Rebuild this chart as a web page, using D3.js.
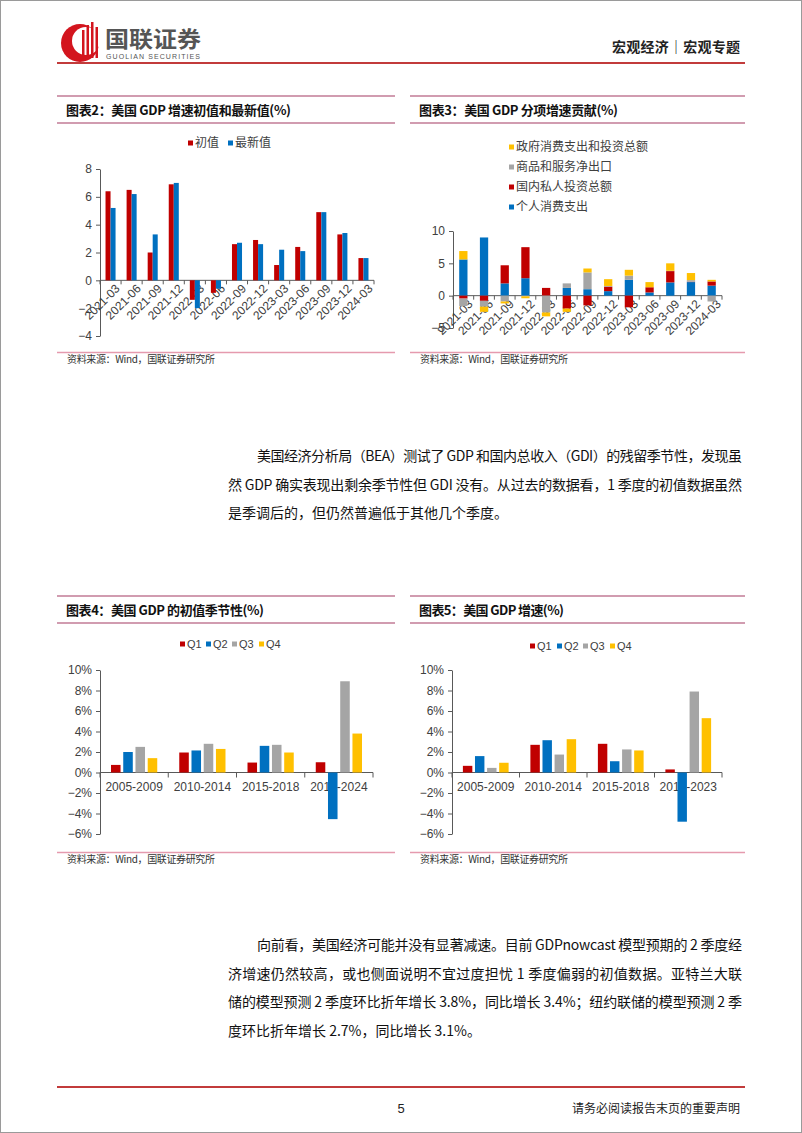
<!DOCTYPE html>
<html><head><meta charset="utf-8">
<script src="https://cdn.jsdelivr.net/npm/d3@7"></script>
<style>
html,body{margin:0;padding:0;background:#fff;}
svg{display:block;}
</style></head><body>
<svg id="page" width="802" height="1133"></svg>
<script>
// ---------------- DATA ----------------
const quarters = ["2021-03","2021-06","2021-09","2021-12","2022-03","2022-06","2022-09","2022-12","2023-03","2023-06","2023-09","2023-12","2024-03"];
const gdpSeriesNames = ["初值","最新值"];
const gdpInitial = [6.4,6.5,2.0,6.9,-1.4,-0.9,2.6,2.9,1.1,2.4,4.9,3.3,1.6];
const gdpLatest  = [5.2,6.2,3.3,7.0,-2.0,-0.6,2.7,2.6,2.2,2.1,4.9,3.4,1.6];
const gdpYTicks = [-4,-2,0,2,4,6,8];

const contribNames = ["个人消费支出","国内私人投资总额","商品和服务净出口","政府消费支出和投资总额"];
const personalConsumption = [5.6,9.0,1.9,2.7,0.0,1.2,1.0,0.7,2.45,0.5,2.05,2.1,1.55];
const privateInvestment   = [-0.45,-0.8,2.8,4.8,1.2,-2.0,-1.5,0.7,-1.8,0.8,1.75,0.05,0.65];
const netExports          = [-1.15,-0.9,-0.9,-0.1,-2.6,0.7,2.6,0.1,0.65,0.0,0.05,0.25,-0.9];
const govSpending         = [1.3,-0.8,-0.3,-0.3,-0.6,-0.5,0.6,1.05,0.9,0.8,1.15,1.1,0.25];
const contribYTicks = [-5,0,5,10];

const seasonNames = ["Q1","Q2","Q3","Q4"];
const periodsInit = ["2005-2009","2010-2014","2015-2018","2019-2024"];
const initQ1 = [0.74,1.95,0.97,1.0];
const initQ2 = [2.0,2.15,2.6,-4.55];
const initQ3 = [2.5,2.8,2.7,8.9];
const initQ4 = [1.4,2.3,1.95,3.8];
const periodsGrowth = ["2005-2009","2010-2014","2015-2018","2019-2023"];
const growQ1 = [0.65,2.7,2.8,0.3];
const growQ2 = [1.6,3.15,1.1,-4.8];
const growQ3 = [0.45,1.75,2.25,7.9];
const growQ4 = [0.95,3.25,2.15,5.3];
const pctYTicks = [-6,-4,-2,0,2,4,6,8,10];

const para1 = [
  "美国经济分析局（BEA）测试了 GDP 和国内总收入（GDI）的残留季节性，发现虽",
  "然 GDP 确实表现出剩余季节性但 GDI 没有。从过去的数据看，1 季度的初值数据虽然",
  "是季调后的，但仍然普遍低于其他几个季度。"
];
const para2 = [
  "向前看，美国经济可能并没有显著减速。目前 GDPnowcast 模型预期的 2 季度经",
  "济增速仍然较高，或也侧面说明不宜过度担忧 1 季度偏弱的初值数据。亚特兰大联",
  "储的模型预测 2 季度环比折年增长 3.8%，同比增长 3.4%；纽约联储的模型预测 2 季",
  "度环比折年增长 2.7%，同比增长 3.1%。"
];

// ---------------- STYLE ----------------
const RED = "#C00000", BLUE = "#0070C0", GRAY = "#A5A5A5", YEL = "#FFC000";
const CJK = "'Noto Sans CJK SC', 'Noto Sans', sans-serif";
const LAT = "'Liberation Sans', Arial, sans-serif";
const AX = "#595959", TXT = "#404040", PANEL = "#c27b96";

const svg = d3.select("#page");
svg.append("rect").attr("x",0.5).attr("y",0.5).attr("width",801).attr("height",1132)
  .attr("fill","#fff").attr("stroke","#9a9a9a");

// ---------------- HEADER ----------------
const logo = svg.append("g");
logo.append("circle").attr("cx",80).attr("cy",43).attr("r",19).attr("fill","#d3151e");
logo.append("circle").attr("cx",86).attr("cy",41).attr("r",14).attr("fill","#fff");
[[82,30,2.5],[86.5,25,2.5],[91,22,2.5],[95.5,27,2.5]].forEach(([x,y,w])=>{
  logo.append("rect").attr("x",x).attr("y",y).attr("width",w).attr("height",58-y).attr("fill","#d3151e");
});
svg.append("text").attr("x",105).attr("y",47).text("国联证券")
  .attr("font-family",CJK).attr("font-weight",700).attr("font-size",22).attr("fill","#555")
  .attr("textLength",96).attr("lengthAdjust","spacingAndGlyphs");
svg.append("text").attr("x",106).attr("y",59).text("GUOLIAN SECURITIES")
  .attr("font-family",LAT).attr("font-size",7).attr("fill","#555")
  .attr("textLength",94).attr("lengthAdjust","spacing");
svg.append("text").attr("x",612).attr("y",52).text("宏观经济｜宏观专题")
  .attr("font-family",CJK).attr("font-weight",700).attr("font-size",14).attr("fill","#222")
  .attr("textLength",128).attr("lengthAdjust","spacing");
svg.append("line").attr("x1",57).attr("x2",745).attr("y1",63).attr("y2",63)
  .attr("stroke","#c23b3b").attr("stroke-width",1.8);

// ---------------- PANELS ----------------
function panel(x0, x1, yTop, title, titleW, srcY) {
  svg.append("line").attr("x1",x0).attr("x2",x1).attr("y1",yTop).attr("y2",yTop)
    .attr("stroke",PANEL).attr("stroke-width",1.3);
  svg.append("text").attr("x",x0+9).attr("y",yTop+19).text(title)
    .attr("font-family",CJK).attr("font-weight",700).attr("font-size",13).attr("fill","#111")
    .attr("textLength",titleW).attr("lengthAdjust","spacing");
  svg.append("line").attr("x1",x0).attr("x2",x1).attr("y1",yTop+27).attr("y2",yTop+27)
    .attr("stroke",PANEL).attr("stroke-width",1.3);
  svg.append("line").attr("x1",x0).attr("x2",x1).attr("y1",srcY).attr("y2",srcY)
    .attr("stroke","#e59aae").attr("stroke-width",1.3);
  svg.append("text").attr("x",x0+10).attr("y",srcY+10).text("资料来源：Wind，国联证券研究所")
    .attr("font-family",CJK).attr("font-size",10).attr("fill","#333")
    .attr("textLength",148).attr("lengthAdjust","spacing");
}

function legendItem(x, y, color, label, size) {
  svg.append("rect").attr("x",x).attr("y",y-2.5).attr("width",5).attr("height",5).attr("fill",color);
  svg.append("text").attr("x",x+7).attr("y",y).attr("dy","0.36em").text(label)
    .attr("font-family", /^[A-Za-z0-9]+$/.test(label)? LAT : CJK)
    .attr("font-size",size).attr("fill",TXT);
}

function yAxis(scale, ticks, fmt, x) {
  const g = svg.append("g").attr("transform",`translate(${x},0)`)
    .call(d3.axisLeft(scale).tickValues(ticks).tickSize(4).tickSizeOuter(0).tickPadding(4).tickFormat(fmt));
  g.attr("font-family",LAT).attr("font-size",12);
  g.select(".domain").attr("stroke",AX);
  g.selectAll(".tick line").attr("stroke",AX);
  g.selectAll(".tick text").attr("fill",TXT);
  return g;
}
const numFmt = d => (d<0?"−":"") + Math.abs(d);
const pctFmt = d => (d<0?"−":"") + Math.abs(d) + "%";

function xBaseline(x, y0, tickLen) {
  const r = x.range();
  svg.append("line").attr("x1",r[0]).attr("x2",r[1]).attr("y1",y0).attr("y2",y0).attr("stroke",AX);
  const off = x.step()*x.paddingInner()/2;
  const bounds = x.domain().map(d => x(d) - off).concat([r[1]]);
  svg.append("g").selectAll("line").data(bounds).join("line")
    .attr("x1",d=>d).attr("x2",d=>d).attr("y1",y0).attr("y2",y0+tickLen).attr("stroke",AX);
}

function rotatedLabels(x, y0) {
  svg.append("g").selectAll("text").data(x.domain()).join("text")
    .attr("transform", d => `translate(${x(d)+x.bandwidth()/2+7},${y0+6}) rotate(-45)`)
    .attr("text-anchor","end").attr("dy","0.36em").text(d=>d)
    .attr("font-family",LAT).attr("font-size",12).attr("fill",TXT);
}

// ---------------- CHART 2 ----------------
panel(57, 395, 96, "图表2：美国 GDP 增速初值和最新值(%)", 225, 352.5);
legendItem(188, 143, RED, gdpSeriesNames[0], 12);
legendItem(228, 143, BLUE, gdpSeriesNames[1], 12);
{
  const x = d3.scaleBand().domain(quarters).range([100,374]).paddingInner(0).paddingOuter(0);
  const x1 = d3.scaleBand().domain(gdpSeriesNames).range([0,x.bandwidth()]).paddingInner(0).paddingOuter(1.1);
  const y = d3.scaleLinear().domain([-4,8]).range([336,169]);
  yAxis(y, gdpYTicks, numFmt, 100);
  const y0 = y(0);
  xBaseline(x, y0, 4);
  rotatedLabels(x, y0);
  const rows = quarters.map((q,i)=>({q, vals:[{k:gdpSeriesNames[0],v:gdpInitial[i]},{k:gdpSeriesNames[1],v:gdpLatest[i]}]}));
  const colors = d3.scaleOrdinal().domain(gdpSeriesNames).range([RED,BLUE]);
  svg.append("g").selectAll("g").data(rows).join("g")
    .attr("transform", d=>`translate(${x(d.q)},0)`)
    .selectAll("rect").data(d=>d.vals).join("rect")
    .attr("x", d=>x1(d.k)).attr("width", x1.bandwidth())
    .attr("y", d=>y(Math.max(0,d.v))).attr("height", d=>Math.abs(y(d.v)-y0))
    .attr("fill", d=>colors(d.k));
}

// ---------------- CHART 3 ----------------
panel(410, 745, 96, "图表3：美国 GDP 分项增速贡献(%)", 199, 352.5);
{
  const legendColors = [YEL, GRAY, RED, BLUE];
  const legendNames = [contribNames[3], contribNames[2], contribNames[1], contribNames[0]];
  legendNames.forEach((n,i)=> legendItem(509, 147 + i*20, legendColors[i], n, 12));
  const x = d3.scaleBand().domain(quarters).range([453,722]).paddingInner(0.6).paddingOuter(0.3);
  const y = d3.scaleLinear().domain([-5,10]).range([328,231]);
  yAxis(y, contribYTicks, numFmt, 453);
  const y0 = y(0);
  xBaseline(x, y0, 4);
  rotatedLabels(x, y0);
  const table = quarters.map((q,i)=>({q,
    [contribNames[0]]: personalConsumption[i],
    [contribNames[1]]: privateInvestment[i],
    [contribNames[2]]: netExports[i],
    [contribNames[3]]: govSpending[i]}));
  const stack = d3.stack().keys(contribNames).offset(d3.stackOffsetDiverging)(table);
  const colors = d3.scaleOrdinal().domain(contribNames).range([BLUE, RED, GRAY, YEL]);
  svg.append("g").selectAll("g").data(stack).join("g").attr("fill", s=>colors(s.key))
    .selectAll("rect").data(s=>s).join("rect")
    .attr("x", d=>x(d.data.q)).attr("width", x.bandwidth())
    .attr("y", d=>y(Math.max(d[0],d[1]))).attr("height", d=>Math.abs(y(d[0])-y(d[1])));
}

// ---------------- CHARTS 4 & 5 ----------------
function groupedChart(periods, series, xr, yr, legendXs, legendY) {
  const colors = [RED, BLUE, GRAY, YEL];
  seasonNames.forEach((n,i)=> legendItem(legendXs[i], legendY, colors[i], n, 11));
  const x = d3.scaleBand().domain(periods).range(xr).padding(0);
  const x1 = d3.scaleBand().domain(seasonNames).range([0,x.bandwidth()]).paddingInner(0.22).paddingOuter(0.9);
  const y = d3.scaleLinear().domain([-6,10]).range(yr);
  yAxis(y, pctYTicks, pctFmt, xr[0]);
  const y0 = y(0);
  xBaseline(x, y0, 5);
  svg.append("g").selectAll("text").data(periods).join("text")
    .attr("x", d=>x(d)+x.bandwidth()/2).attr("y", y0+14).attr("dy","0.36em")
    .attr("text-anchor","middle").text(d=>d)
    .attr("font-family",LAT).attr("font-size",12).attr("fill",TXT);
  const rows = periods.map((p,i)=>({p, vals: seasonNames.map((s,j)=>({k:s, v:series[j][i], c:colors[j]}))}));
  svg.append("g").selectAll("g").data(rows).join("g")
    .attr("transform", d=>`translate(${x(d.p)},0)`)
    .selectAll("rect").data(d=>d.vals).join("rect")
    .attr("x", d=>x1(d.k)).attr("width", x1.bandwidth())
    .attr("y", d=>y(Math.max(0,d.v))).attr("height", d=>Math.abs(y(d.v)-y0))
    .attr("fill", d=>d.c);
}
panel(57, 395, 596, "图表4：美国 GDP 的初值季节性(%)", 198, 852.5);
groupedChart(periodsInit, [initQ1,initQ2,initQ3,initQ4], [100,373], [834,670], [180,206,232,259], 644);
panel(410, 745, 596, "图表5：美国 GDP 增速(%)", 145, 852.5);
groupedChart(periodsGrowth, [growQ1,growQ2,growQ3,growQ4], [452,722], [834,670], [530,557,583,610], 646);

// ---------------- PARAGRAPHS ----------------
function paragraph(lines, xFirst, xRest, xRight, yBase, lh) {
  lines.forEach((t,i)=>{
    const xs = i===0 ? xFirst : xRest;
    const el = svg.append("text").attr("x",xs).attr("y",yBase+i*lh).text(t)
      .attr("font-family",CJK).attr("font-size",14).attr("fill","#111");
    if (i < lines.length-1) el.attr("textLength", xRight-xs).attr("lengthAdjust","spacing");
  });
}
paragraph(para1, 257, 228, 742, 461, 28.5);
paragraph(para2, 257, 228, 742, 950, 28.5);

// ---------------- FOOTER ----------------
svg.append("line").attr("x1",57).attr("x2",745).attr("y1",1087).attr("y2",1087)
  .attr("stroke","#c23b3b").attr("stroke-width",1.8);
svg.append("text").attr("x",401).attr("y",1113).attr("text-anchor","middle").text("5")
  .attr("font-family",LAT).attr("font-size",13).attr("fill","#222");
svg.append("text").attr("x",740).attr("y",1113).attr("text-anchor","end").text("请务必阅读报告末页的重要声明")
  .attr("font-family",CJK).attr("font-size",12).attr("fill","#222");
</script>
</body></html>
